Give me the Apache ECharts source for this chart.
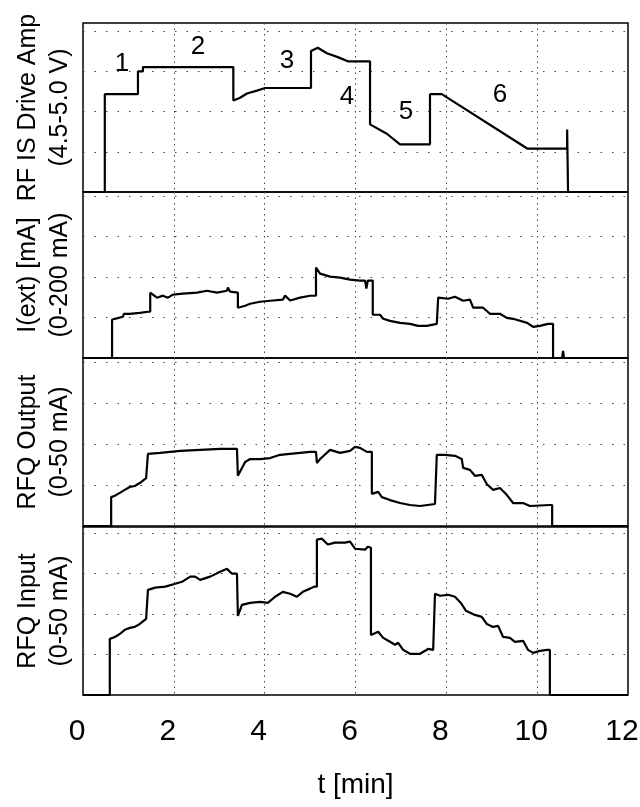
<!DOCTYPE html>
<html>
<head>
<meta charset="utf-8">
<script src="https://cdn.jsdelivr.net/npm/echarts@6/dist/echarts.min.js"></script>
<style>
  html, body { margin: 0; background: #fff; }
  #chart { width: 640px; height: 807px; }
</style>
</head>
<body>
<div id="chart"></div>
<script>
const FONT = '"Liberation Sans", Arial, sans-serif';

// RF ion source drive amplitude [V]
const driveT = [0, 0.48, 0.48, 1.21, 1.21, 1.32, 1.32, 3.31, 3.31, 3.45, 3.61, 3.83, 4.01, 5.02, 5.02, 5.17, 5.37, 5.61, 5.83, 6.32, 6.32, 6.69, 6.98, 7.64, 7.64, 7.90, 9.78, 10.66, 10.66, 10.68, 10.68, 12];
const driveV = [4.5, 4.5, 4.804, 4.804, 4.875, 4.875, 4.888, 4.888, 4.784, 4.792, 4.806, 4.815, 4.823, 4.823, 4.938, 4.948, 4.931, 4.919, 4.906, 4.906, 4.71, 4.681, 4.648, 4.648, 4.804, 4.804, 4.635, 4.635, 4.694, 4.694, 4.5, 4.5];

// extracted current I(ext) [mA]
const iextT = [0, 0.64, 0.64, 0.70, 0.88, 0.90, 1.03, 1.25, 1.43, 1.48, 1.48, 1.63, 1.76, 1.87, 1.98, 2.20, 2.51, 2.73, 2.95, 3.17, 3.19, 3.24, 3.41, 3.41, 3.57, 3.68, 3.90, 4.12, 4.40, 4.45, 4.56, 4.78, 5.00, 5.13, 5.13, 5.22, 5.44, 5.66, 5.88, 6.10, 6.21, 6.24, 6.27, 6.38, 6.38, 6.54, 6.61, 6.76, 6.98, 7.20, 7.38, 7.57, 7.79, 7.82, 7.82, 8.04, 8.19, 8.37, 8.52, 8.59, 8.81, 8.96, 9.18, 9.33, 9.47, 9.78, 9.91, 10.06, 10.24, 10.35, 10.35, 10.55, 10.57, 10.59, 12];
const iextV = [0, 0, 47.2, 48.4, 50.9, 54.6, 54.6, 55.8, 57.1, 57.1, 80.7, 74.5, 77.0, 74.5, 78.2, 79.4, 80.7, 83.1, 80.7, 83.1, 86.9, 81.9, 80.7, 62.1, 64.5, 67.0, 69.5, 70.7, 72.0, 77.0, 71.0, 74.5, 76.9, 76.9, 111.7, 104.2, 100.5, 99.3, 96.8, 95.6, 95.6, 85.6, 95.6, 95.6, 53.4, 53.4, 48.4, 45.9, 43.4, 42.2, 39.7, 39.7, 42.2, 42.2, 74.5, 73.2, 75.7, 70.7, 72.0, 62.1, 62.1, 54.6, 54.6, 49.6, 48.4, 43.4, 38.5, 39.7, 42.2, 42.2, 0, 0, 8.7, 0, 0];

// RFQ output current [mA]
const outT = [0, 0.62, 0.62, 0.70, 0.81, 0.92, 1.03, 1.14, 1.25, 1.39, 1.43, 1.43, 1.70, 2.14, 2.58, 3.02, 3.39, 3.41, 3.57, 3.68, 3.90, 4.12, 4.34, 4.56, 4.78, 5.00, 5.13, 5.15, 5.22, 5.44, 5.66, 5.88, 5.99, 6.10, 6.25, 6.36, 6.36, 6.50, 6.58, 6.76, 6.98, 7.20, 7.42, 7.75, 7.79, 7.79, 7.97, 8.19, 8.34, 8.37, 8.52, 8.63, 8.78, 8.89, 9.03, 9.18, 9.33, 9.47, 9.69, 9.84, 10.28, 10.33, 10.33, 12];
const outV = [0, 0, 8.8, 9.2, 10.1, 11.0, 11.9, 12.2, 13.1, 14.6, 14.6, 22.0, 22.3, 22.9, 23.2, 23.5, 23.5, 15.3, 19.5, 20.4, 20.4, 20.7, 21.7, 22.0, 22.3, 22.6, 22.6, 19.2, 20.4, 23.2, 22.3, 22.9, 24.1, 23.8, 22.6, 22.6, 9.8, 10.4, 8.8, 7.9, 7.0, 6.4, 6.1, 6.7, 6.7, 21.7, 21.7, 21.4, 20.4, 17.7, 17.1, 15.3, 15.6, 12.8, 11.0, 11.6, 9.5, 7.0, 7.0, 6.1, 6.4, 6.4, 0, 0];

// RFQ input current [mA]
const inT = [0, 0.59, 0.59, 0.70, 0.81, 0.92, 1.03, 1.14, 1.25, 1.39, 1.43, 1.43, 1.59, 1.81, 2.03, 2.18, 2.36, 2.47, 2.58, 2.80, 3.02, 3.17, 3.28, 3.39, 3.41, 3.50, 3.68, 3.90, 4.07, 4.23, 4.40, 4.56, 4.71, 4.84, 5.00, 5.09, 5.15, 5.15, 5.26, 5.39, 5.55, 5.77, 5.88, 5.99, 6.21, 6.27, 6.34, 6.34, 6.50, 6.61, 6.76, 6.87, 6.94, 7.05, 7.20, 7.42, 7.60, 7.71, 7.75, 7.75, 7.86, 8.04, 8.19, 8.32, 8.43, 8.63, 8.78, 8.89, 9.03, 9.14, 9.25, 9.40, 9.51, 9.69, 9.80, 9.91, 10.06, 10.22, 10.28, 10.28, 12];
const inV = [0, 0, 17.3, 17.9, 18.8, 20.1, 20.7, 21.0, 21.9, 23.5, 23.5, 32.4, 33.1, 33.4, 34.3, 34.9, 36.5, 36.5, 35.5, 36.5, 38.0, 38.9, 37.4, 37.4, 24.4, 27.8, 28.4, 28.7, 28.4, 30.3, 31.8, 31.2, 30.3, 31.8, 32.8, 33.4, 33.4, 47.9, 48.2, 46.4, 47.0, 47.0, 47.3, 45.1, 44.8, 45.7, 45.4, 18.5, 19.5, 17.6, 16.4, 15.5, 16.1, 13.9, 12.7, 12.7, 14.2, 13.9, 13.9, 31.2, 30.6, 30.9, 30.3, 28.4, 26.0, 24.7, 24.1, 21.9, 21.0, 21.3, 17.9, 17.6, 16.4, 16.7, 13.9, 13.0, 13.6, 13.9, 13.9, 0, 0];

// phase numbers written into the top panel
const phaseLabels = ['1', '2', '3', '4', '5', '6'];
const phaseT = [0.86, 2.53, 4.49, 5.81, 7.11, 9.18];
const phaseV = [4.897, 4.95, 4.906, 4.797, 4.75, 4.803];

const xTicks = [0, 2, 4, 6, 8, 10, 12];

const zip = (ts, vs) => ts.map((t, i) => [t, vs[i]]);

const panels = [
  { name: 'RF IS Drive Amp\n(4.5-5.0 V)', min: 4.5, max: 5.025, interval: 0.125, data: zip(driveT, driveV), top: 23, height: 169 },
  { name: 'I(ext) [mA]\n(0-200 mA)', min: 0, max: 205, interval: 50, data: zip(iextT, iextV), top: 192, height: 166 },
  { name: 'RFQ Output\n(0-50 mA)', min: 0, max: 51.2, interval: 12.5, data: zip(outT, outV), top: 358, height: 168 },
  { name: 'RFQ Input\n(0-50 mA)', min: 0, max: 51.8, interval: 12.5, data: zip(inT, inV), top: 527, height: 168 },
];

function getOption() {
  const last = panels.length - 1;
  const dotted = (gap) => ({ color: '#444', width: 1, type: [1.5, gap] });

  return {
    animation: false,
    backgroundColor: '#fff',
    grid: panels.map(p => ({
      left: 83,
      right: 12,
      top: p.top,
      height: p.height,
      outerBoundsMode: 'none',
      containLabel: false,
      show: true,
      borderColor: '#000',
      borderWidth: 1.5,
    })),
    xAxis: panels.map((p, i) => ({
      type: 'value',
      gridIndex: i,
      min: xTicks[0],
      max: xTicks[xTicks.length - 1],
      interval: xTicks[1] - xTicks[0],
      axisLine: { show: false },
      axisTick: { show: false },
      axisLabel: {
        show: i === last,
        margin: 22,
        fontSize: 30,
        color: '#000',
        fontFamily: FONT,
        // labels in the original sit a little left of their grid lines
        padding: [0, 12, 0, 0],
      },
      splitLine: { show: true, showMinLine: false, showMaxLine: false, lineStyle: dotted(4) },
      name: i === last ? 't [min]' : '',
      nameLocation: 'middle',
      nameGap: 76,
      nameTextStyle: { fontSize: 28, color: '#000', fontFamily: FONT },
    })),
    yAxis: panels.map((p, i) => ({
      type: 'value',
      gridIndex: i,
      min: p.min,
      max: p.max,
      interval: p.interval,
      axisLine: { show: false },
      axisTick: { show: false },
      axisLabel: { show: false },
      splitLine: { show: true, showMinLine: false, showMaxLine: false, lineStyle: dotted(10) },
      name: p.name,
      nameLocation: 'middle',
      nameGap: 7,
      nameTextStyle: { fontSize: 25, lineHeight: 32, color: '#000', fontFamily: FONT },
    })),
    series: [
      ...panels.map((p, i) => ({
        type: 'line',
        xAxisIndex: i,
        yAxisIndex: i,
        data: p.data,
        showSymbol: false,
        clip: true,
        lineStyle: { color: '#000', width: 2.2 },
        z: 3,
      })),
      {
        type: 'scatter',
        xAxisIndex: 0,
        yAxisIndex: 0,
        symbolSize: 0,
        itemStyle: { color: '#000', opacity: 1 },
        data: phaseLabels.map((name, k) => ({ name, value: [phaseT[k], phaseV[k]] })),
        label: {
          show: true,
          position: 'inside',
          formatter: params => params.name,
          fontSize: 26,
          color: '#000',
          textBorderWidth: 0,
          fontFamily: FONT,
        },
        z: 4,
      },
    ],
  };
}

const chart = echarts.init(document.getElementById('chart'), null, { renderer: 'canvas' });
chart.setOption(getOption());
</script>
</body>
</html>
